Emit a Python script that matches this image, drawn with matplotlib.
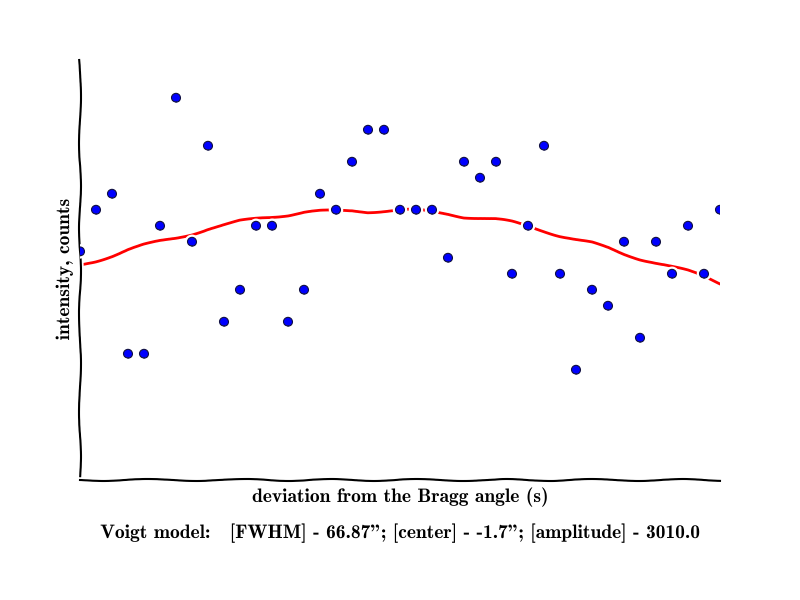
import numpy as np
import matplotlib
matplotlib.use("Agg")
from matplotlib import pyplot as plt

# deviation from Bragg angle, arcsec
angle = np.arange(-100, 101, 5)

# measured intensity (counts)
counts = [14.4, 17, 18, 8, 8, 16, 24, 15, 21, 10,
          12, 16, 16, 10, 12, 18, 17, 20, 22, 22,
          17, 17, 17, 14, 20, 19, 20, 13, 16, 21,
          13, 7, 12, 11, 15, 9, 15, 13, 16, 13, 17]

# Voigt fit
fit = [13.56, 13.81, 14.13, 14.5, 14.81, 15.06, 15.25, 15.5, 15.81, 16.06,
       16.31, 16.44, 16.56, 16.69, 16.88, 16.94, 16.94, 16.94, 16.88, 16.94,
       17.0, 17.0, 16.88, 16.75, 16.56, 16.5, 16.44, 16.25, 16.0, 15.69,
       15.38, 15.13, 14.94, 14.63, 14.25, 13.94, 13.69, 13.44, 13.19, 12.88, 12.44]

title_txt = 'Voigt model:   [FWHM] - 66.87"; [center] - -1.7"; [amplitude] - 3010.0'

plt.xkcd()
plt.rcParams['font.family'] = ['cmb10', 'DejaVu Serif']

fig = plt.figure(figsize=(8, 6), dpi=100)
ax = fig.add_axes([0.1, 0.2, 0.8, 0.7])

ax.plot(angle, fit, color='red', lw=2, zorder=2)
ax.plot(angle, counts, 'o', color='blue', markeredgecolor='#101040',
        markeredgewidth=0.8, markersize=6, zorder=3)

ax.set_xlim(-100, 100)
ax.set_ylim(0.125, 26.375)
ax.spines['top'].set_visible(False)
ax.spines['right'].set_visible(False)
ax.set_xticks([])
ax.set_yticks([])

ax.set_xlabel('deviation from the Bragg angle (s)', fontsize=14, labelpad=5)
ax.set_ylabel('intensity, counts', fontsize=14, labelpad=5)
fig.text(0.5, 0.1117, title_txt, ha='center', va='center', fontsize=14)

fig.savefig('out.png', dpi=100)
